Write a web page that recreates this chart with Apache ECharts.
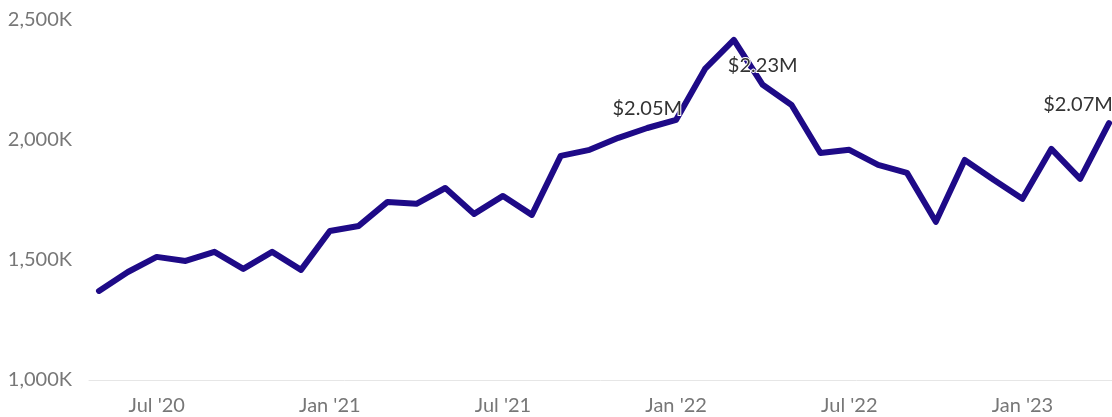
<!DOCTYPE html>
<html>
<head>
<meta charset="utf-8">
<script src="https://cdn.jsdelivr.net/npm/echarts@6/dist/echarts.min.js"></script>
<style>
  html, body { margin: 0; padding: 0; background: #fff; }
  #chart { width: 1112px; height: 417px; }
</style>
</head>
<body>
<div id="chart"></div>
<script>
// monthly values, May '20 .. Apr '23 (in thousands of $)
const months = [
  "May '20", "Jun '20", "Jul '20", "Aug '20", "Sep '20", "Oct '20", "Nov '20", "Dec '20",
  "Jan '21", "Feb '21", "Mar '21", "Apr '21", "May '21", "Jun '21", "Jul '21", "Aug '21",
  "Sep '21", "Oct '21", "Nov '21", "Dec '21", "Jan '22", "Feb '22", "Mar '22", "Apr '22",
  "May '22", "Jun '22", "Jul '22", "Aug '22", "Sep '22", "Oct '22", "Nov '22", "Dec '22",
  "Jan '23", "Feb '23", "Mar '23", "Apr '23"
]
const values = [
  1371, 1450, 1513, 1496, 1534, 1463, 1534, 1459,
  1621, 1642, 1742, 1734, 1800, 1692, 1767, 1688,
  1934, 1959, 2009, 2050, 2084, 2296, 2417, 2230,
  2146, 1946, 1959, 1896, 1863, 1659, 1917, 1834,
  1755, 1963, 1838, 2070
]
const tickMonths = ["Jul '20", "Jan '21", "Jul '21", "Jan '22", "Jul '22", "Jan '23"]
const yTicks = [1000, 1500, 2000, 2500]
// points that carry a value label
const labelledMonths = ["Dec '21", "Apr '22", "Apr '23"]

const chart = echarts.init(document.getElementById('chart'))

const fmtMoney = v => '$' + (v / 1000).toFixed(2) + 'M'
const lastIdx = values.length - 1

const seriesData = values.map((v, i) => {
  const item = { value: [i, v] }
  if (labelledMonths.includes(months[i])) item.label = { show: true }
  return item
})

const option = {
  animation: false,
  grid: { left: 89, right: 0, top: 20, bottom: 37 },
  xAxis: {
    type: 'value',
    min: -0.3465,
    max: 35.104,
    splitLine: { show: false },
    axisTick: { show: false },
    axisLine: { show: true, lineStyle: { color: '#e6e6e6', width: 1 } },
    axisLabel: {
      customValues: tickMonths.map(m => months.indexOf(m)),
      formatter: v => months[Math.round(v)],
      color: '#777',
      fontFamily: 'Lato',
      fontSize: 20,
      margin: 16
    }
  },
  yAxis: {
    type: 'value',
    min: yTicks[0],
    max: yTicks[yTicks.length - 1],
    interval: 500,
    splitLine: { show: false },
    axisLine: { show: false },
    axisTick: { show: false },
    axisLabel: {
      formatter: v => v.toLocaleString('en-US') + 'K',
      color: '#777',
      fontFamily: 'Lato',
      fontSize: 20,
      margin: 17,
      padding: [5, 0, 0, 0]
    }
  },
  series: [
    {
      type: 'line',
      data: seriesData,
      symbol: 'circle',
      symbolSize: 0.1,
      showSymbol: true,
      itemStyle: { color: '#1e0a87' },
      lineStyle: { color: '#1e0a87', width: 6, cap: 'round', join: 'round' },
      label: {
        show: false,
        position: 'top',
        distance: 9,
        formatter: p => fmtMoney(p.value[1]),
        color: '#333',
        fontFamily: 'Lato',
        fontSize: 20,
        textBorderColor: '#fff',
        textBorderWidth: 2
      },
      // shift the last label left so it stays inside the plot
      labelLayout: p => (p.dataIndex === lastIdx ? { dx: -31, hideOverlap: false } : { hideOverlap: false }),
      z: 3
    }
  ]
}

chart.setOption(option)
</script>
</body>
</html>
